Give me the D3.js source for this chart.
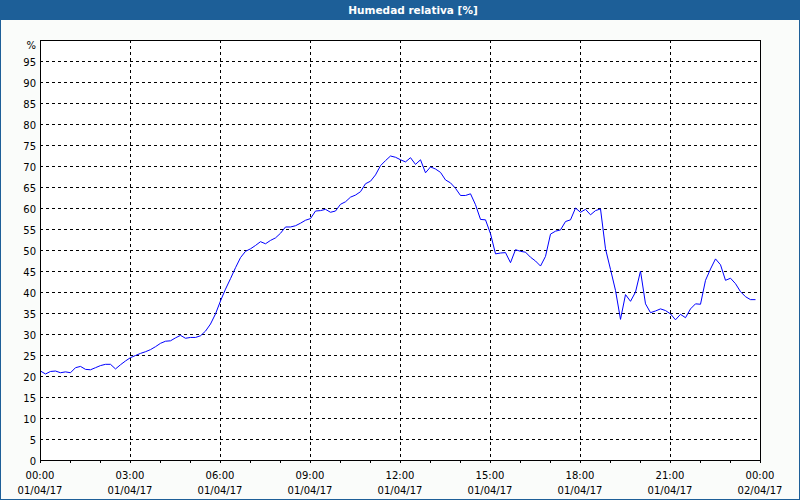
<!DOCTYPE html>
<html>
<head>
<meta charset="utf-8">
<script src="https://cdn.jsdelivr.net/npm/d3@7"></script>
<style>
  html, body { margin: 0; padding: 0; background: #ffffff; }
  svg { display: block; }
  text { font-family: "DejaVu Sans", Verdana, sans-serif; }
</style>
</head>
<body>
<svg id="chart" width="800" height="500"></svg>
<script>
// ---- Data ----
const title = "Humedad relativa [%]";
const unitLabel = "%";
const startMinute = 0;        // 01/04/17 00:00
const stepMinutes = 10;       // sampling interval
const humidity = [
  21.3, 20.6, 21.2, 21.3, 20.9, 21.1, 20.9, 22.1, 22.4, 21.7,
  21.6, 22.1, 22.6, 22.9, 22.9, 21.8, 22.8, 23.7, 24.5, 25.0,
  25.5, 25.9, 26.4, 27.1, 27.9, 28.4, 28.5, 29.2, 29.8, 29.1,
  29.3, 29.3, 29.7, 30.8, 32.5, 34.9, 38.0, 40.8, 43.3, 45.9,
  48.3, 49.8, 50.4, 51.2, 52.1, 51.6, 52.4, 53.0, 54.1, 55.6,
  55.6, 55.9, 56.5, 57.2, 57.6, 59.4, 59.5, 59.8, 59.1, 59.4,
  61.0, 61.6, 62.7, 63.2, 64.0, 65.9, 66.5, 68.0, 70.2, 71.4,
  72.5, 72.2, 71.6, 71.1, 72.1, 70.5, 71.6, 68.5, 69.9, 69.4,
  68.6, 66.8, 66.1, 64.8, 63.1, 63.1, 63.5, 60.9, 57.4, 57.3,
  54.0, 49.2, 49.4, 49.5, 47.1, 50.2, 49.8, 49.6, 48.4, 47.5,
  46.3, 48.6, 53.9, 54.6, 54.9, 56.9, 57.3, 60.1, 59.1, 59.8,
  58.5, 59.5, 59.9, 50.4, 45.5, 40.5, 33.6, 39.5, 37.9, 40.1,
  45.1, 37.3, 35.2, 35.6, 36.1, 35.7, 34.9, 33.5, 34.8, 34.0,
  36.1, 37.3, 37.2, 42.9, 45.6, 48.0, 46.6, 42.9, 43.4, 42.1,
  40.2, 39.0, 38.3, 38.3
];
const yTicks = [0, 5, 10, 15, 20, 25, 30, 35, 40, 45, 50, 55, 60, 65, 70, 75, 80, 85, 90, 95];
const xTickMinutes = [0, 180, 360, 540, 720, 900, 1080, 1260, 1440];
const xTimeLabels = ["00:00", "03:00", "06:00", "09:00", "12:00", "15:00", "18:00", "21:00", "00:00"];
const xDateLabels = ["01/04/17", "01/04/17", "01/04/17", "01/04/17", "01/04/17", "01/04/17", "01/04/17", "01/04/17", "02/04/17"];
const minorTickMinutes = d3.range(0, 1441, 60);

// ---- Layout ----
const W = 800, H = 500;
const plot = { left: 40, right: 760, top: 40, bottom: 460 };
const svg = d3.select("#chart");

const x = d3.scaleLinear().domain([0, 1440]).range([plot.left, plot.right]);
const y = d3.scaleLinear().domain([0, 100]).range([plot.bottom, plot.top]);

// background
svg.append("rect").attr("x", 0).attr("y", 0).attr("width", W).attr("height", H).attr("fill", "#1d5f98");
svg.append("rect").attr("x", 1).attr("y", 20).attr("width", W - 2).attr("height", H - 21).attr("fill", "#fafcfa");

// title
svg.append("text")
  .attr("x", 413).attr("y", 14)
  .attr("text-anchor", "middle")
  .attr("font-size", "10.5px").attr("font-weight", "bold")
  .attr("fill", "#ffffff")
  .text(title);

// plot area background
svg.append("rect")
  .attr("x", plot.left).attr("y", plot.top)
  .attr("width", plot.right - plot.left).attr("height", plot.bottom - plot.top)
  .attr("fill", "#ffffff");

// horizontal grid
const grid = svg.append("g").attr("shape-rendering", "crispEdges");
grid.selectAll("line.h").data(yTicks.filter(d => d > 0))
  .join("line").attr("class", "h")
  .attr("x1", plot.left).attr("x2", plot.right)
  .attr("y1", d => Math.round(y(d)) + 0.5).attr("y2", d => Math.round(y(d)) + 0.5)
  .attr("stroke", "#000").attr("stroke-width", 1).attr("stroke-dasharray", "3,3");

// vertical grid
grid.selectAll("line.v").data(xTickMinutes.filter(d => d > 0 && d < 1440))
  .join("line").attr("class", "v")
  .attr("y1", plot.top).attr("y2", plot.bottom)
  .attr("x1", d => Math.round(x(d)) + 0.5).attr("x2", d => Math.round(x(d)) + 0.5)
  .attr("stroke", "#000").attr("stroke-width", 1).attr("stroke-dasharray", "3,3");

// data line
const line = d3.line()
  .x((d, i) => x(startMinute + i * stepMinutes) + 0.5)
  .y(d => y(d) + 0.5);
svg.append("path")
  .datum(humidity)
  .attr("d", line)
  .attr("fill", "none")
  .attr("stroke", "#0000ff")
  .attr("stroke-width", 1);

// frame
svg.append("rect")
  .attr("x", plot.left + 0.5).attr("y", plot.top + 0.5)
  .attr("width", plot.right - plot.left).attr("height", plot.bottom - plot.top)
  .attr("fill", "none").attr("stroke", "#000").attr("stroke-width", 1)
  .attr("shape-rendering", "crispEdges");

// minor ticks on x
svg.append("g").attr("shape-rendering", "crispEdges")
  .selectAll("line").data(minorTickMinutes)
  .join("line")
  .attr("x1", d => Math.round(x(d)) + 0.5).attr("x2", d => Math.round(x(d)) + 0.5)
  .attr("y1", plot.bottom).attr("y2", plot.bottom + 3)
  .attr("stroke", "#000");

// y labels
const yAxisG = svg.append("g");
yAxisG.selectAll("text").data(yTicks)
  .join("text")
  .attr("x", 36).attr("y", d => y(d) + 5)
  .attr("text-anchor", "end")
  .attr("font-size", "10px").attr("fill", "#000")
  .text(d => d);
yAxisG.append("text")
  .attr("x", 36).attr("y", y(100) + 9)
  .attr("text-anchor", "end")
  .attr("font-size", "10px").attr("fill", "#000")
  .text(unitLabel);

// x labels
const xAxisG = svg.append("g");
xAxisG.selectAll("text.t").data(xTickMinutes)
  .join("text").attr("class", "t")
  .attr("x", d => x(d)).attr("y", 479)
  .attr("text-anchor", "middle")
  .attr("font-size", "10px").attr("fill", "#000")
  .text((d, i) => xTimeLabels[i]);
xAxisG.selectAll("text.d").data(xTickMinutes)
  .join("text").attr("class", "d")
  .attr("x", d => x(d)).attr("y", 494)
  .attr("text-anchor", "middle")
  .attr("font-size", "10px").attr("fill", "#000")
  .text((d, i) => xDateLabels[i]);
</script>
</body>
</html>
